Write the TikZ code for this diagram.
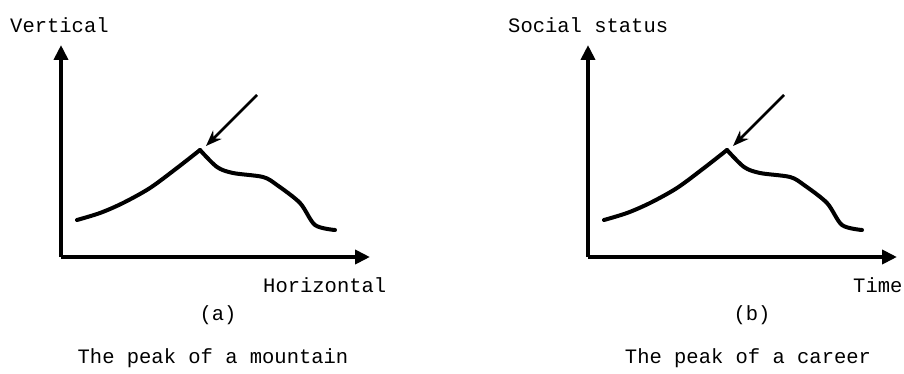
\documentclass[tikz,border=0pt]{standalone}
\usepackage{fontspec}
\usepackage{tikz}
\usetikzlibrary{arrows.meta}
\newfontfamily\pixfont{Liberation Mono}

\tikzset{
  axis/.style={line width=4pt, -{Triangle[length=15pt,width=14pt]}},
  curve/.style={line width=4pt, line cap=round, line join=round},
  pointer/.style={line width=2.5pt, -{Stealth[length=16pt,width=12pt]}},
  lbl/.style={font=\pixfont\fontsize{20.5}{24}\selectfont, inner sep=0pt}
}

\begin{document}
\begin{tikzpicture}[x=1pt, y=-1pt]
		\useasboundingbox (0,0) rectangle (904,374);
		% Panel (a): la montana
		\coordinate (oa) at (61,257);
		\coordinate (ya) at (61,45);
		\coordinate (xa) at (370,257);
		\draw[axis] (oa) -- (ya);
		\draw[axis] (oa) -- (xa);
		\node[lbl, anchor=base west] (va) at (10,33) {Vertical};
		\node[lbl, anchor=base west] (ha) at (263,292) {Horizontal};
		\node[lbl] (capa) at (218,315) {(a)};
		\node[lbl] (titlea) at (213,358) {The peak of a mountain};
		% Curva con el pico
		\coordinate (pka) at (200,150);
		\draw[curve] plot[smooth, tension=0.5] coordinates {(77,220) (100,213) (123,203) (150,188) (177,168) (200,150)};
		\draw[curve] plot[smooth, tension=0.5] coordinates {(200,150) (217,167) (233,173) (263,177) (277,185) (300,203) (315,225) (335,230)};
		\coordinate (sa) at (257,95);
		\coordinate (ta) at (206,146);
		\draw[pointer] (sa) -- (ta);
		% Panel (b): la carrera
		\coordinate (ob) at (588,257);
		\coordinate (yb) at (588,45);
		\coordinate (xb) at (897,257);
		\draw[axis] (ob) -- (yb);
		\draw[axis] (ob) -- (xb);
		\node[lbl, anchor=base west] (vb) at (508,33) {Social status};
		\node[lbl, anchor=base west] (hb) at (853,292) {Time};
		\node[lbl] (capb) at (752,315) {(b)};
		\node[lbl] (titleb) at (748,358) {The peak of a career};
		% Curva con el pico
		\begin{scope}[xshift=527]
		\draw[curve] plot[smooth, tension=0.5] coordinates {(77,220) (100,213) (123,203) (150,188) (177,168) (200,150)};
		\draw[curve] plot[smooth, tension=0.5] coordinates {(200,150) (217,167) (233,173) (263,177) (277,185) (300,203) (315,225) (335,230)};
		\end{scope}
		\coordinate (sb) at (784,95);
		\coordinate (tb) at (733,146);
		\draw[pointer] (sb) -- (tb);
	\end{tikzpicture}
\end{document}
